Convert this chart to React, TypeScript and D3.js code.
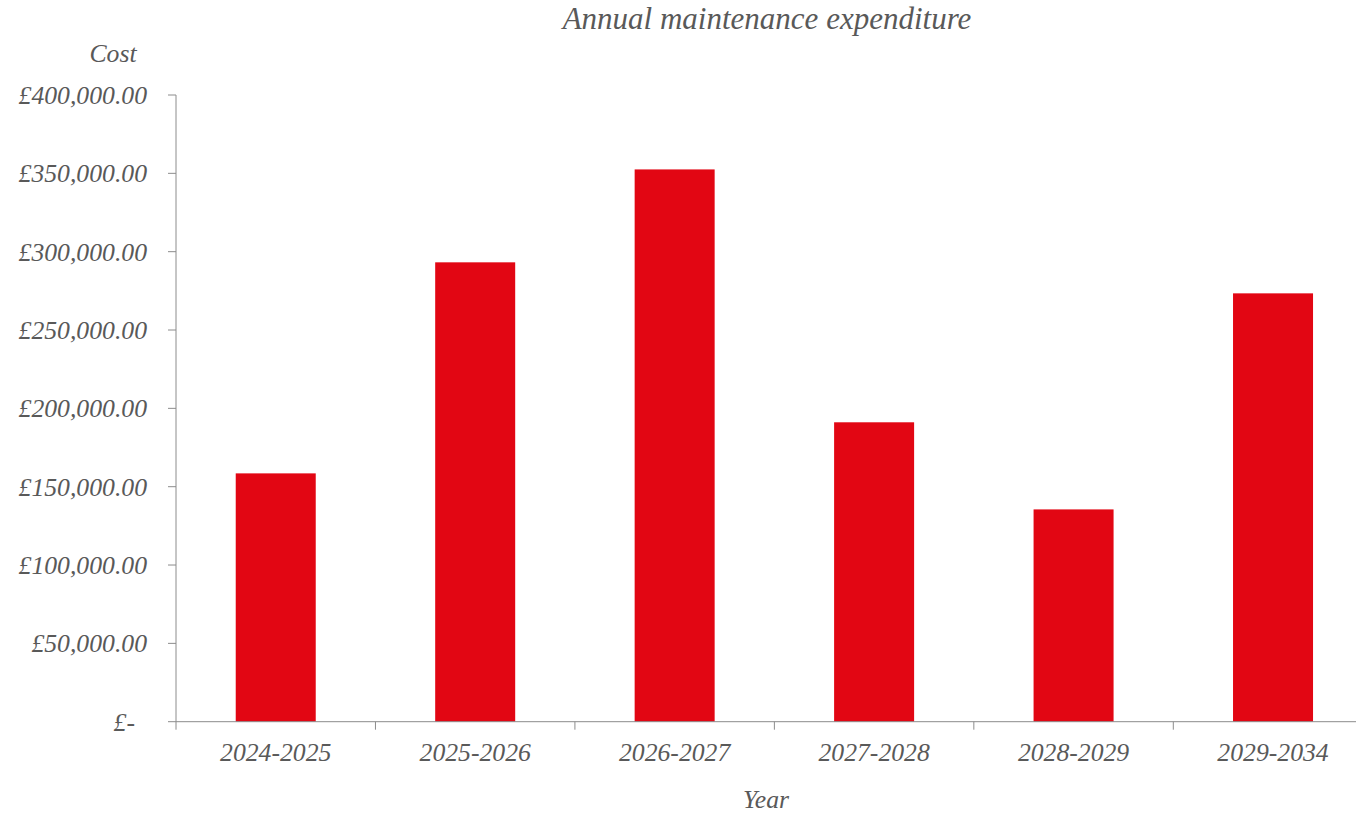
import React from "react";
import * as d3 from "d3";

const categories = ["2024-2025", "2025-2026", "2026-2027", "2027-2028", "2028-2029", "2029-2034"];
const costs = [158500, 293200, 352500, 191100, 135500, 273400];
const yTicks = [0, 50000, 100000, 150000, 200000, 250000, 300000, 350000, 400000];

const W = 1356;
const H = 815;
const left = 176;
const bandW = 199.46;
const top = 95;
const bottom = 721.7;
const textColor = "#595959";
const axisColor = "#8c8c8c";
const font = "'Liberation Serif', 'Times New Roman', serif";

const fmt = (v: number) =>
  v === 0 ? "£-" : "£" + d3.format(",.2f")(v);

export default function App() {
  const x = d3
    .scaleBand<string>()
    .domain(categories)
    .range([left, left + bandW * categories.length])
    .paddingInner(0)
    .paddingOuter(0);
  const y = d3.scaleLinear().domain([0, 400000]).range([bottom, top]);
  const barW = 80;
  const fs = 25.7;

  return (
    <svg
      width={W}
      height={H}
      style={{ position: "absolute", left: 0, top: 0, display: "block", background: "#fff" }}
      fontFamily={font}
      fontStyle="italic"
    >
      <text x={767} y={29} textAnchor="middle" fontSize={31} fill={textColor}>
        Annual maintenance expenditure
      </text>
      <text x={113} y={62} textAnchor="middle" fontSize={fs} fill={textColor}>
        Cost
      </text>
      <text x={766} y={808} textAnchor="middle" fontSize={fs} fill={textColor}>
        Year
      </text>

      {categories.map((c, i) => (
        <rect
          key={c}
          x={(x(c) as number) + x.bandwidth() / 2 - barW / 2}
          y={y(costs[i])}
          width={barW}
          height={y(0) - y(costs[i])}
          fill="#e20613"
        />
      ))}

      {/* y axis */}
      <line x1={left} x2={left} y1={y(400000)} y2={y(0)} stroke={axisColor} strokeWidth={1} />
      {yTicks.map((t) => (
        <g key={t}>
          <line x1={left - 8} x2={left} y1={y(t)} y2={y(t)} stroke={axisColor} strokeWidth={1} />
          <text
            x={t === 0 ? 135 : 147}
            y={y(t)}
            dy="0.35em"
            textAnchor="end"
            fontSize={fs}
            fill={textColor}
          >
            {fmt(t)}
          </text>
        </g>
      ))}

      {/* x axis */}
      <line x1={left} x2={W} y1={y(0)} y2={y(0)} stroke={axisColor} strokeWidth={1} />
      {categories.map((c) => (
        <g key={c}>
          <line
            x1={x(c) as number}
            x2={x(c) as number}
            y1={y(0)}
            y2={y(0) + 8}
            stroke={axisColor}
            strokeWidth={1}
          />
          <text
            x={(x(c) as number) + x.bandwidth() / 2}
            y={761}
            textAnchor="middle"
            fontSize={fs}
            fill={textColor}
          >
            {c}
          </text>
        </g>
      ))}
    </svg>
  );
}
